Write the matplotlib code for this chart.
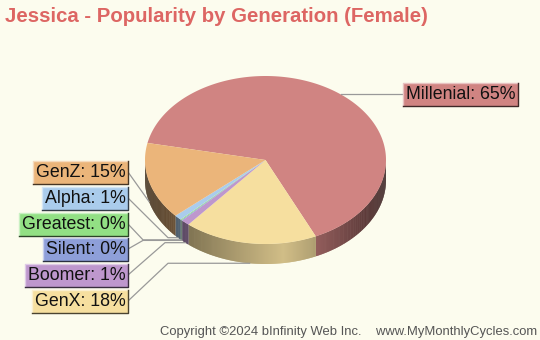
import numpy as np
import matplotlib
matplotlib.use("Agg")
import matplotlib.pyplot as plt
from matplotlib.patches import Polygon, Rectangle

# data (share of Jessica births by generation, %)
generations = ["Millenial", "GenX", "Boomer", "Silent", "Greatest", "Alpha", "GenZ"]
shares = [64.9, 17.9, 1.1, 0.15, 0.15, 1.0, 14.8]
labels = ["Millenial: 65%", "GenX: 18%", "Boomer: 1%", "Silent: 0%",
          "Greatest: 0%", "Alpha: 1%", "GenZ: 15%"]
colors = ["#D08482", "#F6DF9F", "#BE97CD", "#8E9FD9", "#92E084", "#AACCEC", "#EBB57A"]

plt.rcParams['font.family'] = ['Liberation Sans', 'DejaVu Sans']
bg = "#FCFCEE"

fig = plt.figure(figsize=(5.4, 3.4), dpi=100, facecolor=bg)
ax = fig.add_axes([0, 0, 1, 1])
ax.set_xlim(0, 540)
ax.set_ylim(340, 0)
ax.axis('off')
ax.set_facecolor(bg)

# pie geometry in pixels
cx, cy, rx, ry, depth = 265.5, 160.0, 120.5, 84.0, 20.0
start = 168.3  # degrees, slices run clockwise


def pt(theta, dy=0.0):
    t = np.radians(theta)
    return cx + rx * np.cos(t), cy - ry * np.sin(t) + dy


def shade(theta):
    u = np.cos(np.radians(theta))
    u0 = 0.15
    d = (u - u0) / (1 + u0) if u < u0 else (u - u0) / (1 - u0)
    return 0.3 + 0.55 * (1 - abs(d)) ** 0.8


total = sum(shares)
cum = np.concatenate([[0], np.cumsum(shares)]) / total * 360
spans = [(start - cum[i + 1], start - cum[i]) for i in range(len(shares))]

# side walls (front half only), drawn as thin overlapping strips
for (a0, a1), col in zip(spans, colors):
    rgb = np.array(matplotlib.colors.to_rgb(col))
    for off in (0, 360, -360):
        s, e = max(a0 + off, 180), min(a1 + off, 360)
        if e <= s:
            continue
        steps = np.append(np.arange(s, e, 0.5), e)
        for t0, t1 in zip(steps[:-1], steps[1:]):
            t1x = min(t1 + 0.4, e)
            p0, p1 = pt(t0), pt(t1x)
            q1, q0 = pt(t1x, depth), pt(t0, depth)
            c = np.clip(rgb * shade((t0 + t1) / 2), 0, 1)
            ax.add_patch(Polygon([p0, p1, q1, q0], closed=True, facecolor=c,
                                 edgecolor='none'))

# top surface
for (a0, a1), col in zip(spans, colors):
    ts = np.linspace(a0, a1, max(int(a1 - a0) * 2, 2))
    verts = [(cx, cy)] + [pt(t) for t in ts]
    ax.add_patch(Polygon(verts, closed=True, facecolor=col, edgecolor='none'))

# labels
label_y = {"GenZ": 172, "Alpha": 198, "Greatest": 224, "Silent": 249,
           "Boomer": 275, "GenX": 301}
elbow_x = {"GenZ": None, "Alpha": 168, "Greatest": 143, "Silent": 143,
           "Boomer": 165, "GenX": 168}

boxes = []
for name, lab, col, (a0, a1) in zip(generations, labels, colors, spans):
    mid = (a0 + a1) / 2
    if name == "Millenial":
        ax_, ay_ = pt(mid)
        ax.plot([ax_, 403], [ay_, ay_], color='#999999', lw=0.9)
        t = ax.text(405.5, ay_ + 0.5, lab, ha='left', va='center', fontsize=12.8,
                    color='#111111', zorder=5)
        boxes.append((t, col, ay_))
        continue
    ax_, ay_ = pt(mid, depth)
    ly = label_y[name]
    ex = elbow_x[name]
    if ex is None:
        xs, ys = [ax_, 128], [ay_, ly]
    else:
        xs, ys = [ax_, ex, 128], [ay_, ay_, ly]
    ax.plot(xs, ys, color='#999999', lw=0.9)
    t = ax.text(125.5, ly + 0.5, lab, ha='right', va='center', fontsize=12.8,
                color='#111111', zorder=5)
    boxes.append((t, col, ly))

ax.text(5, 16, "Jessica - Popularity by Generation (Female)", ha='left',
        va='center', fontsize=14.7, fontweight='bold', color='#DD6663')
ax.text(537, 332, "Copyright \u00a92024 bInfinity Web Inc.    www.MyMonthlyCycles.com",
        ha='right', va='center', fontsize=9.35, color='#555555')

# label boxes with bevelled borders: light top/left, dark bottom/right
fig.canvas.draw()
inv = ax.transData.inverted()
for t, col, yc in boxes:
    ext = t.get_window_extent()
    (x0, _), (x1, _) = inv.transform([[ext.x0, ext.y0], [ext.x1, ext.y1]])
    x0, x1 = x0 - 3, x1 + 2.5
    y0, y1 = yc - 11.5, yc + 11.5
    rgb = np.array(matplotlib.colors.to_rgb(col))
    ax.add_patch(Rectangle((x0, y0), x1 - x0, y1 - y0, facecolor=col,
                           edgecolor='none', zorder=3))
    light = rgb + (1 - rgb) * 0.5
    dark = rgb * 0.3
    ax.plot([x0, x0, x1], [y1, y0, y0], color=light, lw=1.0, zorder=4)
    ax.plot([x0, x1, x1], [y1, y1, y0], color=dark, lw=1.0, zorder=4)

fig.savefig("out.png", dpi=100, facecolor=bg)
